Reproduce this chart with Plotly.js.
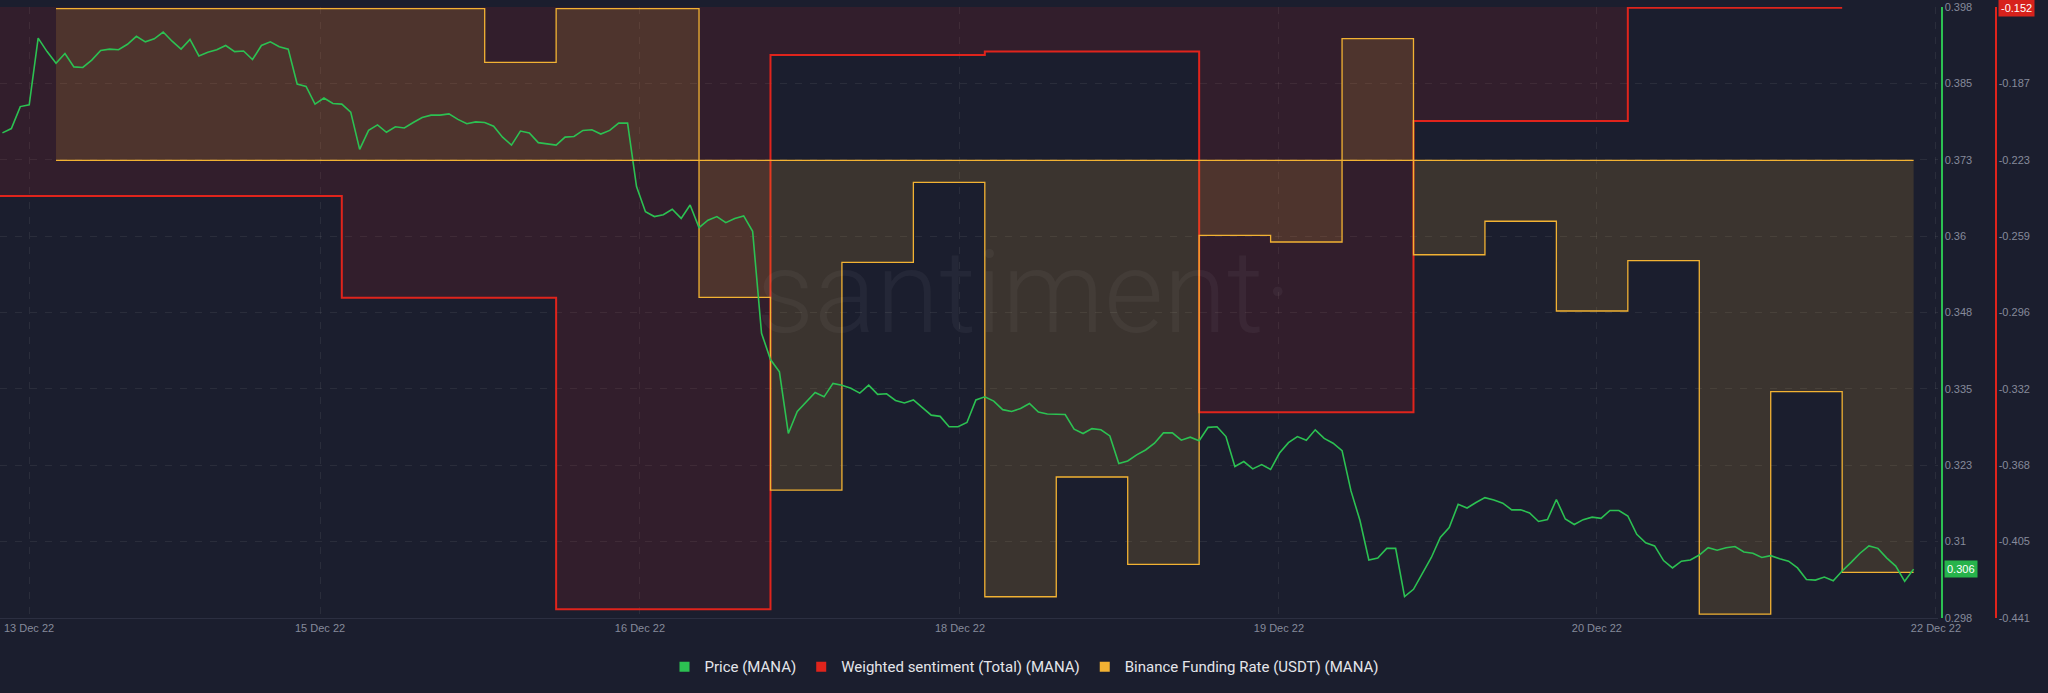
<!DOCTYPE html>
<html>
<head>
<meta charset="utf-8">
<script src="https://cdn.plot.ly/plotly-3.0.1.min.js"></script>
<style>
html,body{margin:0;padding:0;background:#1b1e2e;overflow:hidden}
#chart{width:2048px;height:693px}
</style>
</head>
<body>
<div id="chart"></div>
<script>
// ---- DATA ----
// Price (MANA), hourly from 2022-12-13 10:00 UTC
const priceStart = '2022-12-13 10:00';
const priceStepHours = 1;
const priceValues = [
  0.3774, 0.3781, 0.3817, 0.3820, 0.3929, 0.3907, 0.3888, 0.3904, 0.3882, 0.3881,
  0.3893, 0.3909, 0.3911, 0.3910, 0.3919, 0.3932, 0.3923, 0.3928, 0.3939, 0.3924,
  0.3911, 0.3927, 0.3900, 0.3906, 0.3910, 0.3917, 0.3907, 0.3908, 0.3894, 0.3917,
  0.3923, 0.3915, 0.3911, 0.3854, 0.3850, 0.3821, 0.3831, 0.3822, 0.3821, 0.3808,
  0.3747, 0.3778, 0.3787, 0.3775, 0.3784, 0.3782, 0.3791, 0.3799, 0.3803, 0.3803,
  0.3805, 0.3796, 0.3789, 0.3792, 0.3791, 0.3785, 0.3767, 0.3754, 0.3777, 0.3774,
  0.3758, 0.3756, 0.3754, 0.3767, 0.3768, 0.3778, 0.3779, 0.3772, 0.3778, 0.3790,
  0.3790, 0.3686, 0.3645, 0.3637, 0.3640, 0.3649, 0.3634, 0.3656, 0.3619, 0.3631,
  0.3637, 0.3627, 0.3634, 0.3638, 0.3613, 0.3446, 0.3403, 0.3383, 0.3282, 0.3318,
  0.3334, 0.3349, 0.3342, 0.3364, 0.3361, 0.3356, 0.3348, 0.3361, 0.3346, 0.3347,
  0.3336, 0.3332, 0.3337, 0.3324, 0.3312, 0.3310, 0.3293, 0.3293, 0.3300, 0.3337,
  0.3342, 0.3335, 0.3321, 0.3318, 0.3323, 0.3331, 0.3317, 0.3314, 0.3314, 0.3313,
  0.3289, 0.3282, 0.3290, 0.3288, 0.3278, 0.3233, 0.3237, 0.3247, 0.3255, 0.3266,
  0.3283, 0.3283, 0.3271, 0.3276, 0.3270, 0.3292, 0.3293, 0.3277, 0.3228, 0.3236,
  0.3224, 0.3231, 0.3223, 0.3250, 0.3267, 0.3277, 0.3271, 0.3288, 0.3274, 0.3266,
  0.3254, 0.3188, 0.3140, 0.3075, 0.3078, 0.3094, 0.3094, 0.3015, 0.3027, 0.3052,
  0.3079, 0.3112, 0.3128, 0.3166, 0.3160, 0.3169, 0.3177, 0.3173, 0.3168, 0.3157,
  0.3157, 0.3152, 0.3138, 0.3141, 0.3174, 0.3142, 0.3133, 0.3141, 0.3145, 0.3143,
  0.3156, 0.3156, 0.3147, 0.3117, 0.3103, 0.3098, 0.3074, 0.3062, 0.3073, 0.3075,
  0.3083, 0.3095, 0.3091, 0.3095, 0.3097, 0.3088, 0.3086, 0.3079, 0.3082, 0.3077,
  0.3073, 0.3062, 0.3043, 0.3042, 0.3047, 0.3041, 0.3057, 0.3071, 0.3086, 0.3098,
  0.3094, 0.3078, 0.3065, 0.3040, 0.3060
];

// Weighted sentiment (Total) (MANA), daily
const sentimentDates = ['2022-12-13', '2022-12-14', '2022-12-15', '2022-12-16', '2022-12-17',
                        '2022-12-18', '2022-12-19', '2022-12-20', '2022-12-21', '2022-12-22'];
const sentimentValues = [-0.2414, -0.2414, -0.2895, -0.4369, -0.1747,
                         -0.1731, -0.3437, -0.2059, -0.1523, -0.1523];

// Binance Funding Rate (USDT) (MANA), every 8 hours from 2022-12-13 16:00 UTC
const fundingStart = '2022-12-13 16:00';
const fundingStepHours = 8;
const fundingValues = [
  0.0001, 0.0001, 0.0001, 0.0001, 0.0001, 0.0001, 0.0000646, 0.0001, 0.0001,
  -0.0000904, -0.0002175, -0.0000673, -0.0000145, -0.0002879, -0.0002089, -0.0002665,
  -0.0000495, -0.0000539, 0.0000802, -0.0000623, -0.0000402, -0.0000994, -0.0000662,
  -0.0002993, -0.0001526, -0.0002718, -0.0002718
];

// Axis ticks
const priceTickVals = [0.298, 0.3105, 0.323, 0.3355, 0.348, 0.3605, 0.373, 0.3855, 0.398];
const priceTickText = ['0.298', '0.31', '0.323', '0.335', '0.348', '0.36', '0.373', '0.385', '0.398'];
const sentimentTickVals = [-0.441, -0.404875, -0.36875, -0.332625, -0.2965, -0.260375, -0.22425, -0.188125, -0.152];
const sentimentTickText = ['-0.441', '-0.405', '-0.368', '-0.332', '-0.296', '-0.259', '-0.223', '-0.187', '-0.152'];
const dateTickVals = ['2022-12-13 12:59', '2022-12-14 21:34', '2022-12-16 09:23', '2022-12-17 21:13',
                      '2022-12-19 08:56', '2022-12-20 20:32', '2022-12-22 10:30'];
const dateTickText = ['13 Dec 22', '15 Dec 22', '16 Dec 22', '18 Dec 22', '19 Dec 22', '20 Dec 22', '22 Dec 22'];
const xRange = ['2022-12-13 09:43:40', '2022-12-22 10:43:50'];

const seriesNames = ['Price (MANA)', 'Weighted sentiment (Total) (MANA)', 'Binance Funding Rate (USDT) (MANA)'];
const seriesColors = ['#2cc152', '#e0241c', '#f2b233'];

// ---- helpers ----
function timeSeq(start, stepHours, n) {
  const t0 = Date.parse(start.replace(' ', 'T') + ':00Z');
  const out = [];
  for (let i = 0; i < n; i++) {
    out.push(new Date(t0 + i * stepHours * 3600e3).toISOString().slice(0, 19).replace('T', ' '));
  }
  return out;
}
const priceDates = timeSeq(priceStart, priceStepHours, priceValues.length);
const fundingDates = timeSeq(fundingStart, fundingStepHours, fundingValues.length);

const W = 2048;
const plotRight = 1938 / W;

const traces = [
  {
    x: sentimentDates, y: sentimentValues, type: 'scatter', mode: 'lines',
    line: {shape: 'hv', color: seriesColors[1], width: 2},
    fill: 'tozeroy', fillcolor: 'rgba(225,35,35,0.12)',
    xaxis: 'x', yaxis: 'y', showlegend: false, hoverinfo: 'skip'
  },
  {
    x: fundingDates, y: fundingValues, type: 'scatter', mode: 'lines',
    line: {shape: 'hv', color: seriesColors[2], width: 1.3},
    fill: 'tozeroy', fillcolor: 'rgba(255,190,60,0.14)',
    xaxis: 'x', yaxis: 'y2', showlegend: false, hoverinfo: 'skip'
  },
  {
    x: priceDates, y: priceValues, type: 'scatter', mode: 'lines',
    line: {color: seriesColors[0], width: 1.6},
    xaxis: 'x', yaxis: 'y3', showlegend: false, hoverinfo: 'skip'
  }
];
// legend entries (square swatches)
seriesNames.forEach((n, i) => {
  traces.push({
    x: [null], y: [null], type: 'scatter', mode: 'markers', name: n,
    marker: {symbol: 'square', size: 10, color: seriesColors[i]},
    xaxis: 'x', yaxis: 'y3', showlegend: true, hoverinfo: 'skip'
  });
});

const gridColor = 'rgba(255,255,255,0.065)';
const tickColor = '#868a9b';
const lastPrice = priceValues[priceValues.length - 1];
const lastSent = sentimentValues[sentimentValues.length - 1];

const layout = {
  width: 2048, height: 693,
  paper_bgcolor: '#1b1e2e', plot_bgcolor: '#1b1e2e',
  margin: {l: 0, r: 0, t: 7, b: 75, pad: 0},
  font: {family: 'Liberation Sans, Arial, sans-serif', color: tickColor, size: 11},
  showlegend: true,
  hovermode: false,
  xaxis: {
    type: 'date', domain: [0, plotRight], range: xRange,
    tickmode: 'array', tickvals: dateTickVals, ticktext: dateTickText,
    showgrid: true, gridcolor: gridColor, griddash: '7px,8px', gridwidth: 1,
    showline: true, linecolor: '#2c2f41', linewidth: 1,
    ticks: '', zeroline: false, automargin: false,
    tickfont: {size: 11, color: tickColor}
  },
  yaxis: {
    range: [-0.441, -0.152], side: 'right', anchor: 'free', position: 1995 / W,
    showline: true, linecolor: seriesColors[1], linewidth: 1.5,
    tickmode: 'array', tickvals: sentimentTickVals, ticktext: sentimentTickText,
    showgrid: false, zeroline: false, ticks: '', automargin: false,
    tickfont: {size: 11, color: tickColor}
  },
  yaxis2: {
    overlaying: 'y', range: [-3.0191e-4, 1.0112e-4], visible: false,
    showgrid: false, zeroline: false
  },
  yaxis3: {
    overlaying: 'y', range: [0.298, 0.398], side: 'right', anchor: 'free', position: 1941 / W,
    showline: true, linecolor: seriesColors[0], linewidth: 1.5,
    tickmode: 'array', tickvals: priceTickVals, ticktext: priceTickText,
    showgrid: true, gridcolor: gridColor, griddash: '7px,8px', gridwidth: 1,
    zeroline: false, ticks: '', automargin: false,
    tickfont: {size: 11, color: tickColor}
  },
  legend: {
    orientation: 'h', x: 0.5, xanchor: 'center', y: -0.08, yanchor: 'middle',
    font: {family: 'Roboto, Liberation Sans, sans-serif', size: 15, color: '#e4e5ea'},
    bgcolor: 'rgba(0,0,0,0)', itemclick: false, itemdoubleclick: false
  },
  shapes: [
    {
      type: 'line', xref: 'x', yref: 'y2',
      x0: fundingDates[0], x1: fundingDates[fundingDates.length - 1], y0: 0, y1: 0,
      line: {color: seriesColors[2], width: 1.2}
    }
  ],
  annotations: [
    {
      xref: 'paper', yref: 'paper', x: 0.5, y: 0.532, showarrow: false,
      text: 'santiment·',
      font: {family: 'Roboto, Open Sans, sans-serif', size: 115, color: 'rgba(255,255,255,0.045)', weight: 300}
    },
    {
      xref: 'paper', yref: 'y3', x: 1944 / W, y: lastPrice, xanchor: 'left', yanchor: 'middle',
      showarrow: false, text: lastPrice.toFixed(3), bgcolor: '#27b34b', borderpad: 2,
      font: {family: 'Liberation Sans, Arial, sans-serif', size: 11, color: '#ffffff'}
    },
    {
      xref: 'paper', yref: 'y', x: 1998 / W, y: lastSent, xanchor: 'left', yanchor: 'middle',
      showarrow: false, text: lastSent.toFixed(3), bgcolor: '#d7221c', borderpad: 2,
      font: {family: 'Liberation Sans, Arial, sans-serif', size: 11, color: '#ffffff'}
    }
  ]
};

Plotly.newPlot('chart', traces, layout, {staticPlot: true, displayModeBar: false});
</script>
</body>
</html>
